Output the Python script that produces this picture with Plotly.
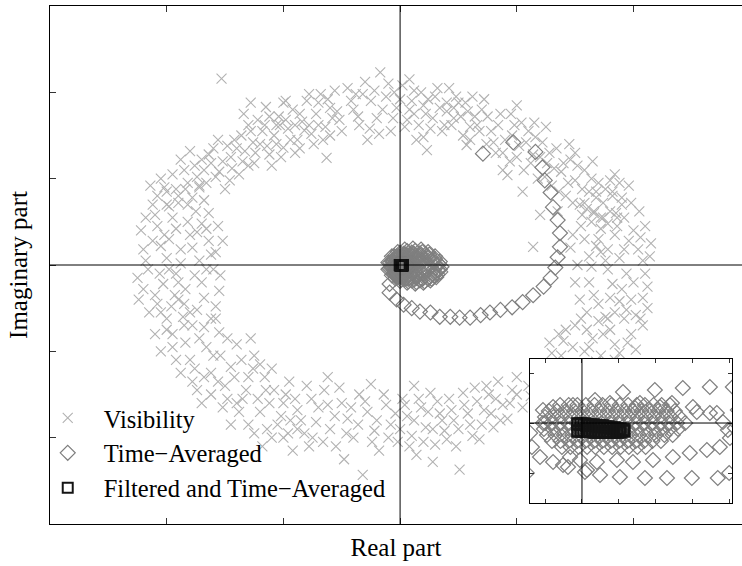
import plotly.graph_objects as go

# ---------------- data (real part, imaginary part) ----------------
visibility = [
    # left
    (-2.18,0.05),(-2.05,0.22),(-1.92,-0.10),(-2.10,-0.35),(-1.80,0.35),(-1.95,0.55),(-2.22,0.40),(-1.70,-0.20),
    (-1.62,0.12),(-1.85,-0.45),(-2.00,-0.62),(-1.75,0.62),(-2.12,0.70),(-1.58,-0.48),(-1.88,0.02),(-2.25,-0.15),
    (-1.66,0.42),(-1.98,0.30),(-2.15,-0.55),(-1.78,-0.70),(-1.52,0.28),(-2.03,-0.22),(-1.90,0.80),(-1.72,0.05),
    (-2.20,0.18),(-1.84,-0.28),(-1.60,-0.05),(-2.08,0.45),(-1.95,-0.80),(-1.68,0.75),(-2.24,-0.40),(-1.55,-0.30),
    (-1.82,0.50),(-2.00,0.08),(-1.74,-0.52),(-2.14,0.92),(-1.64,0.60),(-1.93,-0.35),
    (-2.16,-0.05),(-2.02,0.35),(-1.88,0.18),(-1.76,-0.12),(-1.64,0.28),(-2.10,0.58),(-1.96,-0.48),(-1.82,0.70),
    (-1.70,0.48),(-1.58,0.15),(-2.20,-0.28),(-2.06,-0.10),(-1.92,0.42),(-1.78,0.20),(-1.68,-0.38),(-1.54,-0.12),
    (-2.00,0.70),(-1.86,-0.60),(-2.12,0.28),(-1.72,0.92),(-1.62,-0.62),(-1.98,-0.05),(-1.84,0.88),(-2.18,0.55),
    (-1.56,0.45),(-1.90,-0.20),(-2.08,-0.45),(-1.74,0.38),(-1.66,-0.05),(-2.02,0.90),
    # upper left
    (-2.05,1.00),(-1.92,0.88),(-1.85,1.10),(-1.78,0.78),(-1.70,1.22),(-1.66,0.95),(-1.60,1.35),(-1.55,1.08),
    (-1.50,0.88),(-1.45,1.25),(-1.42,1.45),(-1.38,1.05),(-1.33,1.32),(-1.28,1.55),(-1.25,1.18),(-1.20,1.40),
    (-1.16,1.62),(-1.12,1.28),(-1.08,1.50),(-1.04,1.72),(-1.00,1.36),(-0.96,1.58),(-0.92,1.80),(-0.88,1.45),
    (-0.84,1.66),(-0.80,1.90),(-0.76,1.52),(-0.72,1.75),(-0.68,1.98),(-0.64,1.60),(-0.60,1.82),(-0.56,2.02),
    (-0.52,1.68),(-1.98,0.68),(-1.88,1.22),(-1.74,1.02),(-1.62,1.18),(-1.48,1.38),(-1.35,1.20),(-1.30,1.62),
    (-1.18,1.55),(-1.10,1.15),(-0.98,1.68),(-0.90,1.30),(-0.82,1.56),(-0.70,1.88),(-0.66,1.45),(-0.58,1.70),
    (-1.53,2.16),(-1.28,1.88),(-1.15,1.83),(-1.00,1.88),(-1.03,1.62),(-0.63,1.24),
    (-2.00,0.85),(-1.95,1.05),(-1.82,0.95),(-1.76,1.15),(-1.72,0.90),(-1.64,1.28),(-1.58,1.02),(-1.52,1.20),
    (-1.46,0.98),(-1.40,1.35),(-1.36,1.50),(-1.30,1.15),(-1.26,1.42),(-1.22,1.68),(-1.14,1.38),(-1.06,1.62),
    (-1.02,1.25),(-0.94,1.45),(-0.86,1.75),(-0.78,1.62),(-0.74,1.40),(-0.62,1.92),(-0.54,1.78),(-0.50,1.55),
    (-1.90,0.72),(-1.68,1.10),(-1.44,1.12),(-1.24,1.30),(-1.06,1.40),(-0.98,1.90),(-0.86,1.35),(-0.70,1.62),
    (-0.60,1.50),(-1.56,1.45),(-1.34,1.75),(-1.12,1.72),(-0.90,1.62),(-0.78,1.98),(-1.80,1.32),(-2.08,0.80),
    # top
    (-0.45,2.05),(-0.40,1.80),(-0.35,1.62),(-0.30,2.12),(-0.25,1.90),(-0.20,1.70),(-0.17,2.23),(-0.12,1.95),
    (-0.08,1.55),(-0.03,1.82),(0.02,2.08),(0.06,1.68),(0.10,1.90),(0.14,1.45),(0.18,2.00),(0.22,1.75),
    (0.26,1.58),(0.30,1.95),(0.34,1.82),(0.38,1.62),(0.42,2.05),(0.46,1.70),(0.50,1.88),(0.54,1.50),
    (0.58,1.78),(0.62,1.95),(0.66,1.62),(0.70,1.80),(0.74,1.40),(-0.28,1.45),(0.08,2.15),(0.23,1.33),
    (0.57,1.39),(-0.38,1.98),(0.20,1.85),(0.40,1.78),(-0.05,2.00),(0.60,1.60),
    (-0.42,1.90),(-0.36,1.72),(-0.32,1.98),(-0.26,1.58),(-0.22,2.02),(-0.15,1.80),(-0.10,2.10),(-0.06,1.70),
    (0.00,1.92),(0.04,1.60),(0.08,1.80),(0.12,2.02),(0.16,1.62),(0.20,1.48),(0.24,1.92),(0.28,1.70),
    (0.32,2.05),(0.36,1.55),(0.40,1.88),(0.44,1.62),(0.48,1.95),(0.52,1.72),(0.56,1.88),(0.60,1.45),
    (0.64,1.72),(0.68,1.55),(-0.18,1.52),(0.12,1.75),(0.46,1.82),(0.72,1.92),
    # upper right
    (0.78,1.55),(0.82,1.30),(0.86,1.75),(0.90,1.45),(0.94,1.20),(0.98,1.62),(1.02,1.38),(1.06,1.10),
    (1.10,1.55),(1.14,1.28),(1.18,1.00),(1.22,1.42),(1.26,1.18),(1.30,0.92),(1.34,1.35),(1.38,1.08),
    (1.42,0.80),(1.46,1.22),(1.50,0.98),(1.54,0.70),(1.58,1.10),(1.62,0.85),(1.66,0.60),(1.70,0.95),
    (1.74,0.72),(1.78,0.48),(1.82,0.80),(1.86,0.55),(0.92,1.04),(1.20,0.58),(1.14,0.21),(0.75,1.72),
    (1.00,1.85),(1.25,1.60),(1.45,1.40),(1.65,1.20),(1.88,0.95),(1.05,0.85),(1.35,0.62),(0.88,1.10),
    (0.80,1.42),(0.84,1.62),(0.88,1.30),(0.96,1.50),(1.00,1.25),(1.04,1.65),(1.08,1.42),(1.12,1.18),
    (1.16,1.48),(1.20,1.25),(1.24,1.02),(1.28,1.30),(1.32,1.12),(1.36,0.85),(1.40,1.18),(1.44,0.95),
    (1.48,0.72),(1.52,1.15),(1.56,0.88),(1.60,0.65),(1.64,1.00),(1.68,0.78),(1.72,0.55),(1.76,0.88),
    (1.80,0.62),(1.84,1.05),(1.90,0.70),(0.95,1.75),(1.15,1.65),(1.50,1.30),
    # right
    (1.55,0.45),(1.70,0.30),(1.85,0.60),(2.00,0.40),(1.62,0.10),(1.78,-0.05),(1.92,0.18),(2.08,0.05),
    (1.50,-0.20),(1.66,-0.35),(1.82,-0.22),(1.98,-0.40),(2.12,-0.25),(1.58,0.72),(1.74,0.55),(1.90,0.78),
    (2.05,0.62),(1.46,0.20),(1.60,-0.55),(1.76,-0.60),(1.94,-0.10),(2.15,0.25),(1.68,0.85),(1.84,0.35),
    (2.02,-0.58),(1.52,0.00),(1.72,0.15),(1.88,-0.42),(2.10,0.45),(1.64,0.50),(1.80,0.98),(1.96,0.92),
    (1.58,0.30),(1.66,0.62),(1.72,0.42),(1.78,0.18),(1.86,0.45),(1.90,-0.28),(1.96,0.28),(2.04,0.18),
    (2.10,-0.10),(1.54,-0.40),(1.62,-0.20),(1.70,-0.45),(1.76,0.05),(1.84,-0.55),(1.92,0.55),(2.00,-0.20),
    (2.06,0.32),(1.48,0.35),(1.56,0.58),(1.64,-0.02),(1.80,-0.38),(1.88,0.08),(1.98,0.72),(2.14,0.10),
    (1.68,0.22),(1.82,0.85),(1.94,-0.52),(2.08,-0.38),
    # lower right
    (1.50,-0.70),(1.65,-0.85),(1.80,-0.75),(1.95,-0.90),(2.08,-0.70),(1.58,-1.00),(1.72,-1.05),(1.88,-1.02),
    (2.02,-0.98),(1.40,-0.88),(1.30,-1.02),(1.45,-1.15),(1.62,-1.25),(1.78,-1.20),(1.20,-1.20),(1.35,-1.35),
    (1.52,-1.45),(1.10,-1.40),(1.25,-1.55),(1.00,-1.50),(1.15,-1.70),(2.12,-0.50),(1.92,-0.62),(1.70,-0.65),
    (1.36,-0.80),
    (1.55,-0.62),(1.62,-0.95),(1.74,-0.80),(1.84,-0.92),(1.98,-0.80),(2.06,-0.62),(1.48,-0.95),(1.68,-1.12),
    (1.84,-1.10),(1.42,-0.75),(1.28,-0.90),(1.38,-1.05),(1.52,-1.20),(1.24,-1.30),(1.40,-1.40),(1.12,-1.52),
    (1.30,-1.20),(1.05,-1.65),(1.60,-0.75),(1.78,-0.62),
    # bottom
    (-0.90,-1.55),(-0.85,-1.80),(-0.80,-1.40),(-0.75,-2.00),(-0.70,-1.65),(-0.65,-1.45),(-0.60,-1.90),(-0.55,-2.10),
    (-0.50,-1.60),(-0.45,-1.78),(-0.40,-2.00),(-0.35,-1.50),(-0.32,-2.43),(-0.28,-1.70),(-0.22,-1.92),(-0.18,-2.15),
    (-0.12,-1.62),(-0.08,-1.85),(-0.02,-2.05),(0.02,-1.55),(0.06,-1.75),(0.10,-1.98),(0.14,-2.20),(0.18,-1.65),
    (0.22,-1.88),(0.26,-1.48),(0.30,-2.08),(0.34,-1.72),(0.38,-1.92),(0.42,-1.55),(0.46,-1.80),(0.51,-2.37),
    (0.55,-1.62),(0.60,-1.85),(0.64,-1.42),(0.68,-2.02),(0.72,-1.68),(0.76,-1.50),(0.80,-1.88),(0.84,-1.35),
    (0.88,-1.62),(0.92,-1.78),(0.96,-1.45),(1.00,-1.30),(-0.62,-1.30),(-0.25,-1.38),(0.12,-1.40),(0.48,-2.10),
    (-0.48,-2.25),(0.28,-2.28),
    (-0.88,-1.68),(-0.82,-1.95),(-0.76,-1.55),(-0.72,-1.82),(-0.66,-2.05),(-0.62,-1.62),(-0.56,-1.75),(-0.52,-1.42),
    (-0.46,-1.95),(-0.42,-1.65),(-0.36,-1.85),(-0.30,-1.58),(-0.24,-2.05),(-0.20,-1.80),(-0.14,-1.50),(-0.10,-2.00),
    (-0.04,-1.72),(0.00,-1.90),(0.04,-1.62),(0.08,-2.10),(0.12,-1.80),(0.16,-1.55),(0.20,-2.05),(0.24,-1.70),
    (0.28,-1.90),(0.32,-1.58),(0.36,-1.80),(0.40,-2.02),(0.44,-1.68),(0.50,-1.90),(0.54,-1.48),(0.58,-1.72),
    (0.62,-1.98),(0.66,-1.58),(0.70,-1.85),(0.74,-1.40),(0.78,-1.72),(0.82,-1.55),(0.86,-1.80),(0.94,-1.60),
    # lower left
    (-2.05,-0.55),(-1.95,-0.95),(-1.85,-0.70),(-1.80,-1.10),(-1.72,-0.85),(-1.68,-1.30),(-1.60,-1.05),(-1.55,-0.78),
    (-1.50,-1.40),(-1.45,-1.18),(-1.40,-0.92),(-1.35,-1.55),(-1.30,-1.30),(-1.25,-1.05),(-1.20,-1.70),(-1.15,-1.45),
    (-1.10,-1.20),(-1.05,-1.85),(-1.00,-1.60),(-0.95,-1.35),(-1.00,-2.00),(-1.70,-1.60),(-1.45,-1.85),(-1.25,-1.95),
    (-1.90,-0.40),(-2.10,-0.80),(-1.62,-1.50),(-1.38,-1.70),(-1.12,-1.60),(-0.88,-1.90),(-0.78,-2.10),(-1.78,-1.35),
    (-1.52,-1.65),(-1.28,-0.85),(-1.58,-0.62),(-1.88,-1.25),(-1.18,-2.10),(-0.92,-2.15),
    (-2.00,-0.75),(-1.92,-1.10),(-1.84,-0.90),(-1.76,-1.20),(-1.66,-0.95),(-1.62,-1.25),(-1.54,-1.05),(-1.48,-0.85),
    (-1.42,-1.30),(-1.36,-1.10),(-1.32,-1.45),(-1.26,-1.20),(-1.22,-1.55),(-1.16,-1.30),(-1.08,-1.45),(-1.02,-1.75),
    (-0.98,-1.50),(-0.94,-1.80),(-1.56,-1.35),(-1.74,-1.45),(-1.40,-1.60),(-1.30,-1.85),(-1.14,-1.90),(-0.96,-1.95),
    (-1.80,-0.55),(-1.68,-0.72),(-1.48,-1.55),(-1.20,-1.15),(-1.10,-2.00),(-2.05,-1.00),
]

time_averaged = [
    # outer spiral arm
    (0.71,1.29),(0.97,1.42),(1.16,1.31),(1.22,1.13),(1.24,0.98),(1.29,0.84),(1.31,0.67),(1.35,0.52),
    (1.37,0.37),(1.37,0.21),(1.35,0.09),(1.33,-0.03),(1.29,-0.15),(1.23,-0.25),(1.14,-0.35),(1.05,-0.43),
    (0.96,-0.49),(0.86,-0.52),(0.77,-0.55),(0.69,-0.58),(0.60,-0.61),(0.51,-0.61),(0.43,-0.60),(0.34,-0.60),
    (0.26,-0.55),(0.17,-0.54),(0.10,-0.50),(0.03,-0.46),(-0.03,-0.40),(-0.09,-0.32),(-0.09,-0.22),
    # loops around the origin
    (-0.07,-0.12),(-0.10,-0.05),(-0.10,0.03),(-0.07,0.10),(-0.02,0.15),(0.04,0.18),(0.11,0.19),(0.18,0.18),
    (0.24,0.15),(0.30,0.10),(0.34,0.04),(0.355,-0.02),(0.345,-0.08),(0.31,-0.14),(0.26,-0.18),(0.20,-0.205),
    (0.13,-0.215),(0.06,-0.205),(0.00,-0.185),(-0.04,-0.155),
    (-0.05,-0.11),(-0.09,-0.04),(-0.085,0.03),(-0.05,0.10),(0.00,0.14),(0.06,0.16),(0.13,0.165),(0.19,0.15),
    (0.25,0.12),(0.30,0.07),(0.335,0.01),(0.34,-0.05),(0.32,-0.11),(0.27,-0.16),(0.21,-0.19),(0.14,-0.20),
    (0.07,-0.19),(0.01,-0.17),(-0.03,-0.14),
    (-0.04,-0.10),(-0.08,-0.03),(-0.07,0.04),(-0.03,0.10),(0.03,0.13),(0.10,0.145),(0.17,0.135),(0.23,0.11),
    (0.28,0.06),(0.315,0.00),(0.32,-0.06),(0.29,-0.12),(0.24,-0.16),(0.17,-0.18),(0.10,-0.18),(0.04,-0.16),
    (-0.01,-0.135),
    (-0.03,-0.09),(-0.07,-0.02),(-0.06,0.05),(-0.01,0.10),(0.05,0.125),(0.12,0.13),(0.18,0.115),(0.24,0.08),
    (0.285,0.03),(0.305,-0.03),(0.29,-0.09),(0.25,-0.14),(0.19,-0.165),(0.12,-0.17),(0.05,-0.155),(0.00,-0.125),
    (-0.04,-0.09),(-0.07,-0.03),(-0.06,0.04),(-0.02,0.09),(0.04,0.115),(0.10,0.12),(0.16,0.10),(0.21,0.06),
    (0.24,0.00),(0.235,-0.06),(0.20,-0.11),(0.14,-0.15),(0.07,-0.16),(0.01,-0.14),
    (-0.05,-0.06),(-0.06,0.01),(-0.03,0.07),(0.02,0.105),(0.08,0.11),(0.14,0.085),(0.19,0.04),(0.21,-0.02),
    (0.19,-0.08),(0.14,-0.125),(0.08,-0.145),(0.02,-0.135),(-0.03,-0.105),
    (-0.04,-0.08),(-0.06,-0.01),(-0.05,0.06),(0.00,0.10),(0.06,0.11),(0.12,0.09),(0.16,0.04),(0.18,-0.02),
    (0.16,-0.09),(0.11,-0.13),(0.05,-0.145),(-0.01,-0.12),
    (-0.03,-0.06),(-0.05,0.00),(-0.03,0.06),(0.02,0.09),(0.08,0.085),(0.13,0.05),(0.15,-0.01),(0.13,-0.07),
    (0.08,-0.11),(0.02,-0.115),(-0.02,-0.09),
    (-0.03,-0.04),(-0.04,0.02),(0.00,0.07),(0.05,0.08),(0.10,0.05),(0.12,-0.01),(0.10,-0.07),(0.05,-0.10),
    (0.00,-0.085),
    (-0.03,-0.02),(-0.02,0.04),(0.02,0.055),(0.07,0.045),(0.10,0.00),(0.08,-0.05),(0.04,-0.075),(-0.01,-0.06),
    (-0.02,0.00),(0.00,0.035),(0.04,0.04),(0.09,0.02),(0.08,-0.02),(0.05,-0.045),(0.01,-0.05),
    # converged cloud (seen in the inset): outer scatter
    (0.0223,0.0124),(0.0396,0.0132),(0.0548,0.0140),(0.0695,0.0144),(0.0820,0.0144),(0.0071,0.0092),
    (-0.0049,0.0072),(0.0152,0.0080),(0.0315,0.0080),(0.0489,0.0080),(0.0603,0.0064),(0.0733,0.0040),
    (0.0766,0.0004),(0.0793,-0.0028),(0.0804,-0.0060),(0.0749,-0.0096),(0.0679,-0.0108),(0.0586,-0.0120),
    (0.0494,-0.0136),(0.0386,-0.0148),(0.0277,-0.0156),(0.0190,-0.0148),(0.0081,-0.0156),(-0.0011,-0.0148),
    (-0.0065,-0.0136),(-0.0157,-0.0156),(-0.0228,-0.0136),(-0.0272,-0.0096),(-0.0282,-0.0040),(-0.0212,0.0052),
    (-0.0157,0.0064),(0.0098,-0.0208),(0.0206,-0.0216),(0.0342,-0.0220),(0.0462,-0.0220),(0.0597,-0.0220),
    (0.0738,-0.0220),(0.0027,-0.0188),(-0.0103,-0.0168),(0.0847,0.0052),(0.0831,-0.0020),(0.0288,0.0060),
    (0.0424,0.0064),(0.0624,0.0044),(0.0695,0.0040),(-0.0076,-0.0176),(0.0016,-0.0196),
    # converged cloud: dense core
    (-0.0119,0.0072),(-0.0072,0.0072),(-0.0025,0.0072),(0.0021,0.0072),(0.0068,0.0072),(0.0112,0.0072),
    (0.0160,0.0072),(0.0205,0.0072),(0.0251,0.0072),(0.0298,0.0072),(0.0342,0.0072),(0.0389,0.0072),
    (0.0433,0.0072),(0.0478,0.0072),
    (-0.0180,0.0048),(-0.0136,0.0048),(-0.0088,0.0048),(-0.0043,0.0048),(0.0003,0.0048),(0.0049,0.0048),
    (0.0094,0.0048),(0.0141,0.0048),(0.0186,0.0048),(0.0232,0.0048),(0.0277,0.0048),(0.0323,0.0048),
    (0.0368,0.0048),(0.0414,0.0048),(0.0460,0.0048),(0.0505,0.0048),
    (-0.0201,0.0024),(-0.0155,0.0024),(-0.0110,0.0024),(-0.0064,0.0024),(-0.0018,0.0024),(0.0027,0.0024),
    (0.0073,0.0024),(0.0118,0.0024),(0.0164,0.0024),(0.0210,0.0024),(0.0255,0.0024),(0.0301,0.0024),
    (0.0347,0.0024),(0.0392,0.0024),(0.0438,0.0024),(0.0483,0.0024),(0.0530,0.0024),
    (-0.0212,0.0000),(-0.0167,0.0000),(-0.0121,0.0000),(-0.0076,0.0000),(-0.0030,0.0000),(0.0015,0.0000),
    (0.0061,0.0000),(0.0106,0.0000),(0.0152,0.0000),(0.0197,0.0000),(0.0243,0.0000),(0.0288,0.0000),
    (0.0334,0.0000),(0.0379,0.0000),(0.0425,0.0000),(0.0470,0.0000),(0.0516,0.0000),(0.0561,0.0000),
    (-0.0207,-0.0024),(-0.0160,-0.0024),(-0.0115,-0.0024),(-0.0069,-0.0024),(-0.0024,-0.0024),(0.0022,-0.0024),
    (0.0067,-0.0024),(0.0113,-0.0024),(0.0158,-0.0024),(0.0204,-0.0024),(0.0249,-0.0024),(0.0295,-0.0024),
    (0.0340,-0.0024),(0.0386,-0.0024),(0.0431,-0.0024),(0.0477,-0.0024),(0.0522,-0.0024),
    (-0.0190,-0.0048),(-0.0144,-0.0048),(-0.0098,-0.0048),(-0.0053,-0.0048),(-0.0007,-0.0048),(0.0038,-0.0048),
    (0.0084,-0.0048),(0.0129,-0.0048),(0.0175,-0.0048),(0.0220,-0.0048),(0.0266,-0.0048),(0.0311,-0.0048),
    (0.0357,-0.0048),(0.0402,-0.0048),(0.0448,-0.0048),(0.0493,-0.0048),
    (-0.0163,-0.0072),(-0.0117,-0.0072),(-0.0072,-0.0072),(-0.0026,-0.0072),(0.0019,-0.0072),(0.0065,-0.0072),
    (0.0110,-0.0072),(0.0156,-0.0072),(0.0201,-0.0072),(0.0247,-0.0072),(0.0292,-0.0072),(0.0338,-0.0072),
    (0.0383,-0.0072),(0.0429,-0.0072),
    (-0.0109,-0.0096),(-0.0063,-0.0096),(-0.0018,-0.0096),(0.0028,-0.0096),(0.0073,-0.0096),(0.0119,-0.0096),
    (0.0164,-0.0096),(0.0210,-0.0096),(0.0255,-0.0096),(0.0301,-0.0096),(0.0346,-0.0096),
]

filtered_time_averaged = [
    (0.0228,-0.0032),(0.0223,-0.0028),(0.0206,-0.0036),(0.0206,-0.0024),(0.0190,-0.0036),(0.0190,-0.0024),
    (0.0174,-0.0036),(0.0174,-0.0020),(0.0157,-0.0036),(0.0157,-0.0020),(0.0141,-0.0036),(0.0141,-0.0016),
    (0.0125,-0.0036),(0.0125,-0.0016),(0.0109,-0.0036),(0.0109,-0.0012),(0.0092,-0.0036),(0.0092,-0.0012),
    (0.0076,-0.0036),(0.0076,-0.0012),(0.0060,-0.0036),(0.0060,-0.0008),(0.0043,-0.0032),(0.0043,-0.0008),
    (0.0027,-0.0032),(0.0027,-0.0008),(0.0011,-0.0032),(0.0011,-0.0004),(-0.0005,-0.0032),(-0.0005,-0.0004),
    (-0.0022,-0.0032),(-0.0022,-0.0004),
]

vis_re = [p[0] for p in visibility]
vis_im = [p[1] for p in visibility]
ta_re = [p[0] for p in time_averaged]
ta_im = [p[1] for p in time_averaged]
ft_re = [p[0] for p in filtered_time_averaged]
ft_im = [p[1] for p in filtered_time_averaged]

VIS_COLOR = "#b2b2b2"
TA_COLOR = "#7f7f7f"
FT_COLOR = "#141414"
FONT = "Liberation Serif, Times New Roman, serif"

fig = go.Figure()
fig.add_trace(go.Scatter(x=vis_re, y=vis_im, mode="markers", name="Visibility",
                         marker=dict(symbol="x-thin-open", size=10, color=VIS_COLOR,
                                     line=dict(width=1.1, color=VIS_COLOR))))
fig.add_trace(go.Scatter(x=ta_re, y=ta_im, mode="markers", name="Time\u2212Averaged",
                         marker=dict(symbol="diamond-open", size=11.5, color=TA_COLOR,
                                     line=dict(width=1.2, color=TA_COLOR))))
fig.add_trace(go.Scatter(x=ft_re, y=ft_im, mode="markers", name="Filtered and Time\u2212Averaged",
                         marker=dict(symbol="square-open", size=10, color=FT_COLOR,
                                     line=dict(width=2, color=FT_COLOR))))
# inset: the same two averaged series, zoomed on the origin
fig.add_trace(go.Scatter(x=ta_re, y=ta_im, mode="markers", showlegend=False, xaxis="x2", yaxis="y2",
                         marker=dict(symbol="diamond-open", size=11.5, color=TA_COLOR,
                                     line=dict(width=1.2, color=TA_COLOR))))
fig.add_trace(go.Scatter(x=ft_re, y=ft_im, mode="markers", showlegend=False, xaxis="x2", yaxis="y2",
                         marker=dict(symbol="square-open", size=11, color=FT_COLOR,
                                     line=dict(width=2.5, color=FT_COLOR))))

axis_common = dict(showticklabels=False, ticks="inside", showgrid=False, zeroline=False,
                   showline=True, linecolor="black", linewidth=1.4, tickcolor="#333333")

fig.update_layout(
    width=742, height=566,
    margin=dict(l=50, r=0, t=6, b=42),
    plot_bgcolor="white", paper_bgcolor="white",
    font=dict(family=FONT, size=21, color="black"),
    xaxis=dict(range=[-3, 2.93], tickvals=[-2, -1, 0, 1, 2], ticklen=6, mirror="ticks",
               title=dict(text="Real part", standoff=14), **axis_common),
    yaxis=dict(range=[-3, 3], tickvals=[-2, -1, 0, 1, 2], ticklen=6, mirror=False,
               title=dict(text="Imaginary part", standoff=14), **axis_common),
    xaxis2=dict(domain=[0.6936, 0.9855], anchor="y2", range=[-0.02826, 0.08152],
                tick0=0, dtick=0.02, ticklen=4, mirror="ticks", **axis_common),
    yaxis2=dict(domain=[0.0405, 0.3185], anchor="x2", range=[-0.032, 0.0256],
                tick0=0, dtick=0.02, ticklen=4, mirror="ticks", **axis_common),
    legend=dict(x=-0.0264, y=0.248, xanchor="left", yanchor="top", bgcolor="rgba(0,0,0,0)",
                font=dict(family=FONT, size=24.5), itemwidth=62),
    shapes=[
        dict(type="line", xref="x domain", yref="y", x0=0, x1=1, y0=0, y1=0,
             line=dict(color="black", width=1), layer="above"),
        dict(type="line", xref="x", yref="y domain", x0=0, x1=0, y0=0, y1=1,
             line=dict(color="black", width=1), layer="above"),
        dict(type="line", xref="x2 domain", yref="y2", x0=0, x1=1, y0=0, y1=0,
             line=dict(color="black", width=1), layer="above"),
        dict(type="line", xref="x2", yref="y2 domain", x0=0, x1=0, y0=0, y1=1,
             line=dict(color="black", width=1), layer="above"),
    ],
)

fig.write_html("out.html")
